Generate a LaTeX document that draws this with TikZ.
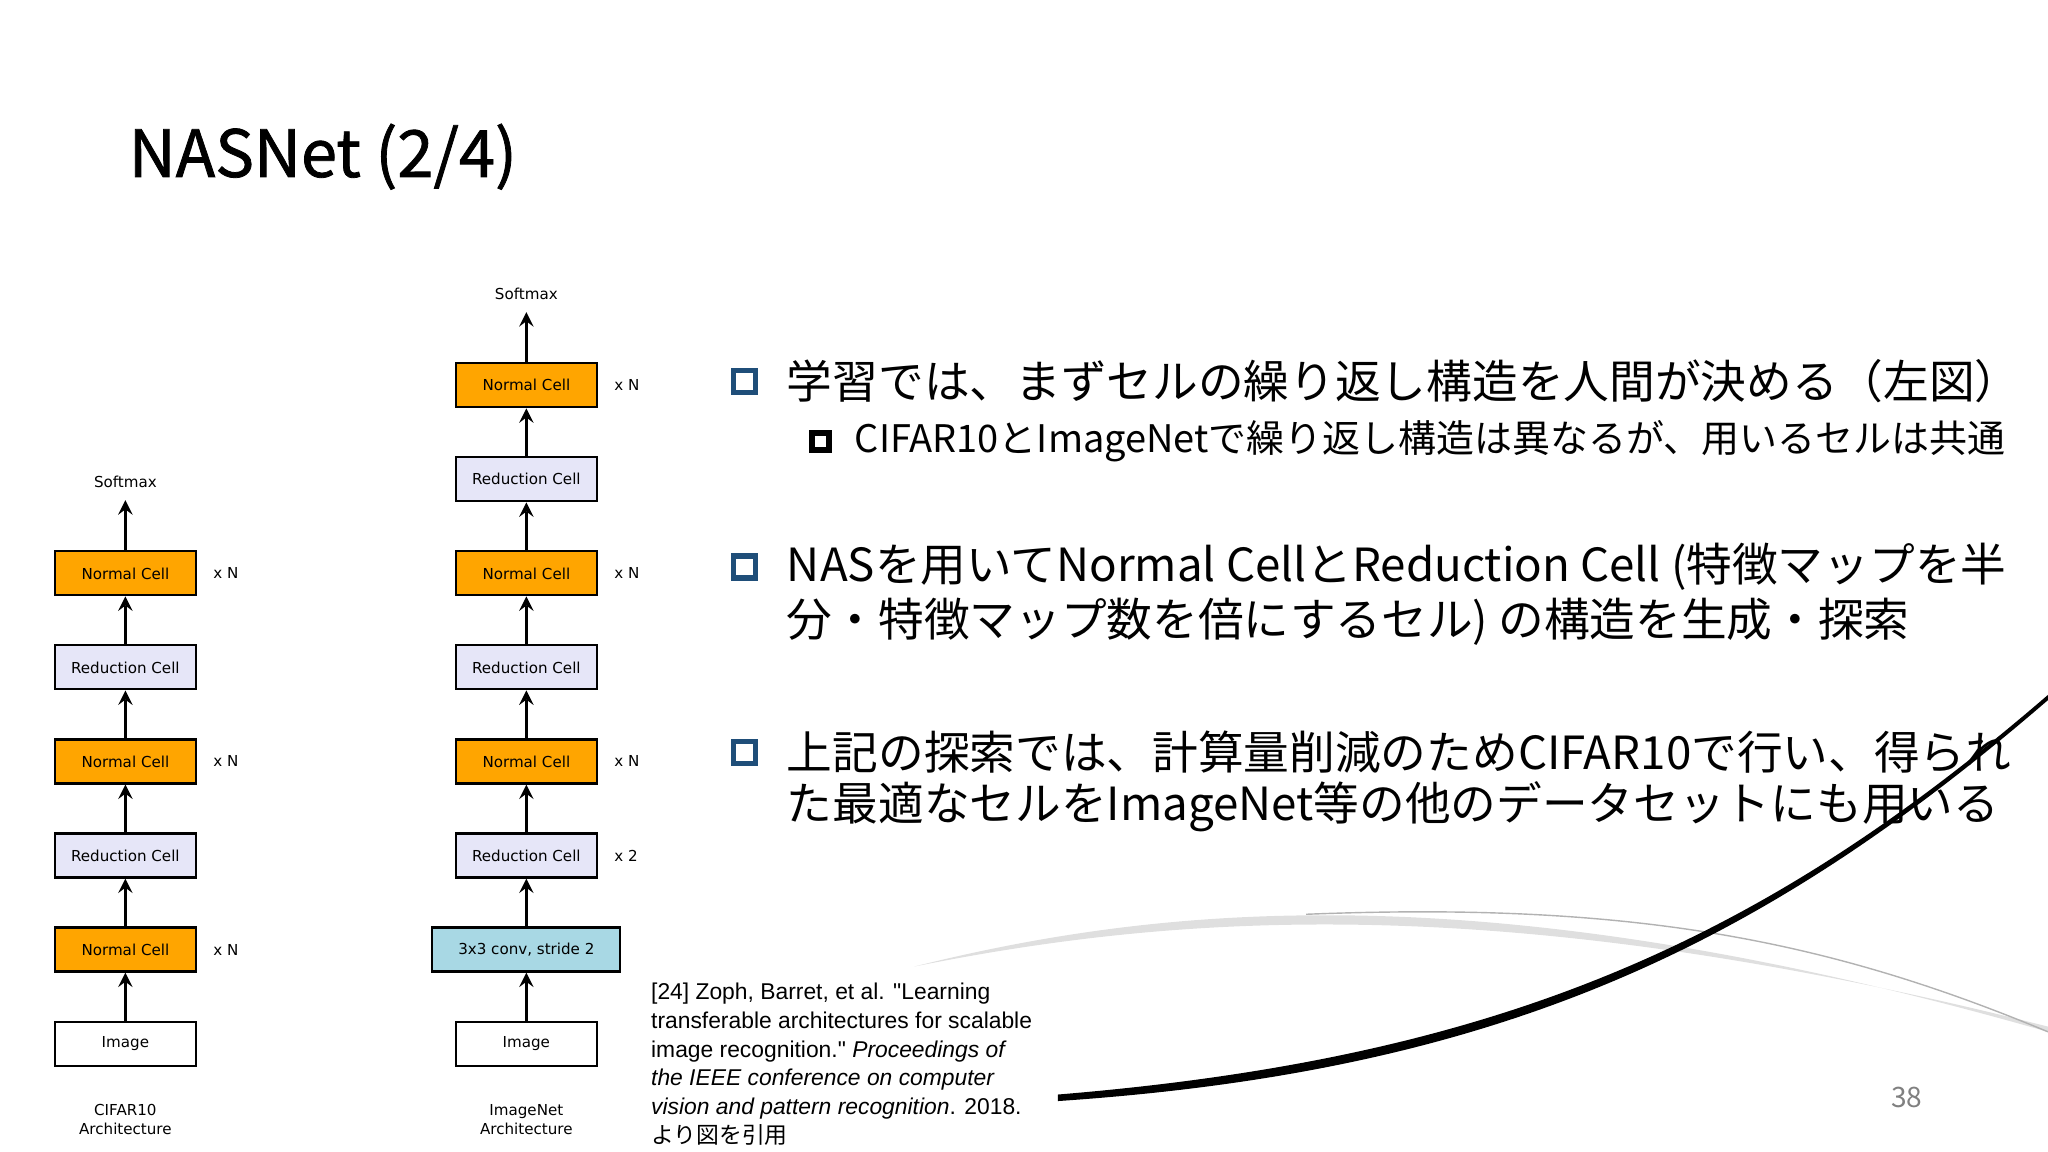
\documentclass[tikz,border=0pt]{standalone}
\usepackage{fontspec}
\setmainfont{Noto Sans CJK JP}
\newfontfamily\figfont{DejaVu Sans}
\newfontfamily\citefont{Liberation Sans}
\newfontfamily\titlefont[FakeBold=1.2]{Noto Sans CJK JP}
\usetikzlibrary{positioning}
\definecolor{cellorange}{HTML}{FFA500}
\definecolor{redcell}{HTML}{E6E6F8}
\definecolor{convblue}{HTML}{A8D8E4}
\definecolor{bulletblue}{HTML}{1F4E79}
\begin{document}
\begin{tikzpicture}[x=0.013061cm,y=-0.013061cm,
  cell/.style={draw,line width=0.6pt,minimum width=1.41cm,minimum height=0.44cm,font=\figfont\fontsize{4.3}{5}\selectfont},
  normal/.style={cell,fill=cellorange},
  reduct/.style={cell,fill=redcell},
  small/.style={font=\figfont\fontsize{4.3}{5.5}\selectfont,align=center},
  bul/.style={draw=bulletblue,line width=1.6pt,minimum size=0.22cm,inner sep=0pt},
  txt/.style={anchor=west,font=\fontsize{13}{16}\selectfont,inner sep=0pt},
  up/.style={->,>=stealth,line width=0.8pt}]
  \useasboundingbox (0,0) rectangle (1568,882);
  % decoration
  \fill[gray!25] (700,740) .. controls (900,690) and (1150,670) .. (1568,790)
    -- (1568,786) .. controls (1150,680) and (900,700) .. (700,740);
  \draw[gray!60,line width=0.4pt] (1000,700) .. controls (1250,690) and (1400,720) .. (1568,790);
  \fill[black] (810,838) .. controls (1150,810) and (1350,720) .. (1568,532)
    -- (1568,536) .. controls (1350,724) and (1150,820) .. (810,843) -- cycle;
  % title
  \node[anchor=west,inner sep=0pt,font=\titlefont\fontsize{18.5}{22}\selectfont] (title) at (98,120) {NASNet (2/4)};
  % CIFAR10
  \node[small] (cs) at (96,369) {Softmax};
  \node[normal] (c1) at (96,439) {Normal Cell};
  \node[reduct] (c2) at (96,511) {Reduction Cell};
  \node[normal] (c3) at (96,583) {Normal Cell};
  \node[reduct] (c4) at (96,655) {Reduction Cell};
  \node[normal] (c5) at (96,727) {Normal Cell};
  \node[cell] (c6) at (96,799) {Image};
  \node[small] (cl) at (96,857) {CIFAR10\\Architecture};
  \foreach \a/\b in {c6/c5,c5/c4,c4/c3,c3/c2,c2/c1,c1/cs}
    \draw[up] (\a) -- (\b);
  \foreach \n in {c1,c3,c5}
    \node[small,right=0.04cm of \n] {x N};
  % ImageNet
  \node[small] (is) at (403,225) {Softmax};
  \node[normal] (i1) at (403,295) {Normal Cell};
  \node[reduct] (i2) at (403,367) {Reduction Cell};
  \node[normal] (i3) at (403,439) {Normal Cell};
  \node[reduct] (i4) at (403,511) {Reduction Cell};
  \node[normal] (i5) at (403,583) {Normal Cell};
  \node[reduct] (i6) at (403,655) {Reduction Cell};
  \node[cell,fill=convblue,minimum width=1.88cm] (i7) at (403,727) {3x3 conv, stride 2};
  \node[cell] (i8) at (403,799) {Image};
  \node[small] (il) at (403,857) {ImageNet\\Architecture};
  \foreach \a/\b in {i8/i7,i7/i6,i6/i5,i5/i4,i4/i3,i3/i2,i2/i1,i1/is}
    \draw[up] (\a) -- (\b);
  \foreach \n in {i1,i3,i5}
    \node[small,right=0.04cm of \n] {x N};
  \node[small,right=0.04cm of i6] {x 2};
  % bullets
  \node[bul] (b1) at (570,292) {};
  \node[txt] (t1) at (602,292) {学習では、まずセルの繰り返し構造を人間が決める（左図）};
  \node[draw,line width=1.6pt,minimum size=0.17cm,inner sep=0pt] (b2) at (628,338) {};
  \node[txt,font=\fontsize{10.8}{14}\selectfont] (t2) at (654,338) {CIFAR10とImageNetで繰り返し構造は異なるが、用いるセルは共通};
  \node[bul] (b3) at (570,434) {};
  \node[txt] (t3) at (602,434) {NASを用いてNormal CellとReduction Cell (特徴マップを半};
  \node[txt] (t3b) at (602,476) {分・特徴マップ数を倍にするセル) の構造を生成・探索};
  \node[bul] (b4) at (570,576) {};
  \node[txt] (t4) at (602,576) {上記の探索では、計算量削減のためCIFAR10で行い、得られ};
  \node[txt] (t4b) at (602,618) {た最適なセルをImageNet等の他のデータセットにも用いる};
  % citation
  \node[anchor=north west,inner sep=0pt,align=left,font=\citefont\fontsize{6.5}{8.2}\selectfont] (cite) at (498,752)
    {[24] Zoph, Barret, et al. "Learning\\transferable architectures for scalable\\image recognition." \textit{Proceedings of}\\\textit{the IEEE conference on computer}\\\textit{vision and pattern recognition}. 2018.\\{\rmfamily より図を引用}};
  \node[text=gray,font=\fontsize{8}{10}\selectfont] (page) at (1460,840) {38};
\end{tikzpicture}
\end{document}
